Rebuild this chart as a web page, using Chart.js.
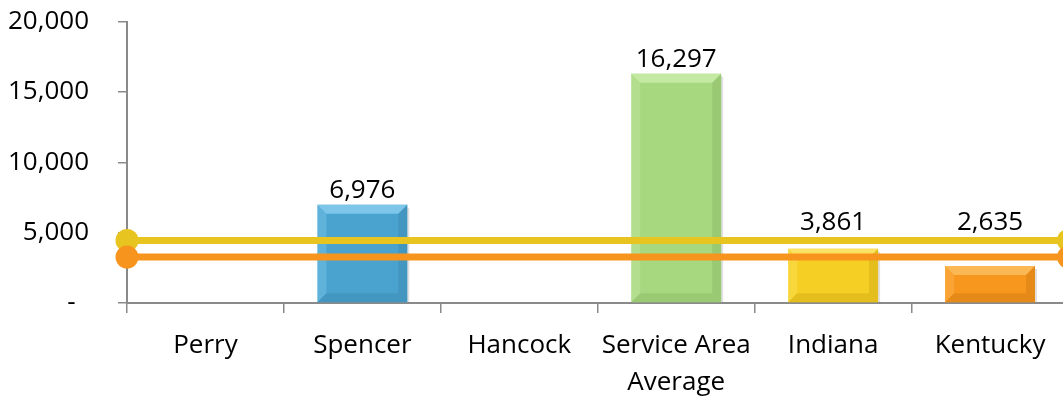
<!DOCTYPE html>
<html>
<head>
<meta charset="utf-8">
<script src="https://cdn.jsdelivr.net/npm/chart.js@4.4.1/dist/chart.umd.min.js"></script>
<style>
    html, body { margin: 0; padding: 0; background: #fff; overflow: hidden; }
    #wrap { width: 1063px; height: 402px; overflow: hidden; }
    canvas { display: block; margin-top: -23px; }
</style>
</head>
<body>
<div id="wrap"><canvas id="chart" width="1080" height="425"></canvas></div>
<script>
const categories = ['Perry', 'Spencer', 'Hancock', ['Service Area', 'Average'], 'Indiana', 'Kentucky'];
const barValues = [null, 6976, null, 16297, 3861, 2635];
const yellowLine = [4446, 4446];
const orangeLine = [3267, 3267];
const yTicks = [0, 5000, 10000, 15000, 20000];

// body, light edge, dark edge
const barColors = [
    ['#4aa3cf', '#86cdef', '#3a82a8'],
    ['#4aa3cf', '#86cdef', '#3a82a8'],
    ['#4aa3cf', '#86cdef', '#3a82a8'],
    ['#a7d880', '#c9eca8', '#86b562'],
    ['#f6cf24', '#fbe56e', '#c9a412'],
    ['#f8971e', '#fdbd5e', '#c9760f'],
];

const FONT = "'Open Sans', 'Noto Sans', sans-serif";

const bevelPlugin = {
    id: 'bevel',
    afterDatasetDraw(chart, args) {
        if (args.index !== 0) return;
        const ctx = chart.ctx;
        args.meta.data.forEach((bar, i) => {
            if (barValues[i] == null) return;
            const { x, y, width, base } = bar.getProps(['x', 'y', 'width', 'base'], true);
            const l = x - width / 2, r = x + width / 2;
            const b = Math.min(9, (base - y) / 3);
            const [, light, dark] = barColors[i];
            ctx.save();
            ctx.globalAlpha = 0.85;
            // top
            ctx.fillStyle = light;
            ctx.beginPath();
            ctx.moveTo(l, y); ctx.lineTo(r, y); ctx.lineTo(r - b, y + b); ctx.lineTo(l + b, y + b);
            ctx.fill();
            // left
            ctx.globalAlpha = 0.35;
            ctx.beginPath();
            ctx.moveTo(l, y); ctx.lineTo(l + b, y + b); ctx.lineTo(l + b, base - b); ctx.lineTo(l, base);
            ctx.fill();
            // right
            ctx.fillStyle = dark;
            ctx.globalAlpha = 0.4;
            ctx.beginPath();
            ctx.moveTo(r, y); ctx.lineTo(r - b, y + b); ctx.lineTo(r - b, base - b); ctx.lineTo(r, base);
            ctx.fill();
            // bottom
            ctx.globalAlpha = 0.4;
            ctx.beginPath();
            ctx.moveTo(l, base); ctx.lineTo(l + b, base - b); ctx.lineTo(r - b, base - b); ctx.lineTo(r, base);
            ctx.fill();
            // soft shadow on the right
            ctx.globalAlpha = 0.18;
            ctx.fillStyle = '#555';
            ctx.fillRect(r, y + 3, 2, base - y - 3);
            ctx.restore();
        });
    },
};

const valueLabels = {
    id: 'valueLabels',
    afterDraw(chart) {
        const ctx = chart.ctx;
        const yScale = chart.scales.y;
        const lineTop = yScale.getPixelForValue(Math.max(yellowLine[0], orangeLine[0])) - 3.5;
        const meta = chart.getDatasetMeta(0);
        ctx.save();
        ctx.font = `26px ${FONT}`;
        ctx.fillStyle = '#000';
        ctx.textAlign = 'center';
        ctx.textBaseline = 'alphabetic';
        meta.data.forEach((bar, i) => {
            const v = barValues[i];
            if (v == null) return;
            const top = Math.min(bar.y, lineTop);
            ctx.fillText(v.toLocaleString('en-US'), bar.x, top - 7);
        });
        ctx.restore();
    },
};

new Chart(document.getElementById('chart'), {
    type: 'bar',
    data: {
        labels: categories,
        datasets: [
            {
                type: 'bar',
                label: 'Value',
                data: barValues,
                backgroundColor: barColors.map((c) => c[0]),
                borderWidth: 0,
                grouped: false,
                barPercentage: 0.573,
                categoryPercentage: 1,
                order: 3,
            },
            {
                type: 'line',
                label: 'Indiana benchmark',
                data: yellowLine,
                xAxisID: 'x2',
                borderColor: '#e8c420',
                backgroundColor: '#e8c420',
                borderWidth: 7,
                pointRadius: 11.5,
                pointHoverRadius: 11.5,
                pointBorderWidth: 0,
                clip: false,
                order: 2,
            },
            {
                type: 'line',
                label: 'Kentucky benchmark',
                data: orangeLine,
                xAxisID: 'x2',
                borderColor: '#f7941e',
                backgroundColor: '#f7941e',
                borderWidth: 7,
                pointRadius: 11.5,
                pointHoverRadius: 11.5,
                pointBorderWidth: 0,
                clip: false,
                order: 1,
            },
        ],
    },
    options: {
        responsive: false,
        animation: false,
        events: [],
        layout: { padding: 0 },
        plugins: {
            legend: { display: false },
            tooltip: { enabled: false },
        },
        scales: {
            x: {
                type: 'category',
                offset: true,
                afterFit: (scale) => { scale.height = 99; },
                border: { color: '#8a8a8a', width: 2 },
                grid: {
                    offset: true,
                    drawOnChartArea: false,
                    tickLength: 10,
                    color: '#8a8a8a',
                    lineWidth: 1.5,
                },
                ticks: {
                    color: '#000',
                    padding: 14,
                    maxRotation: 0,
                    autoSkip: false,
                    font: { family: FONT, size: 26, lineHeight: 1.42 },
                },
            },
            x2: {
                type: 'category',
                labels: ['start', 'end'],
                offset: false,
                display: false,
            },
            y: {
                min: 0,
                max: 20000,
                afterFit: (scale) => { scale.width = 127; },
                afterBuildTicks: (scale) => { scale.ticks = yTicks.map((v) => ({ value: v })); },
                border: { color: '#8a8a8a', width: 2 },
                grid: {
                    drawOnChartArea: false,
                    tickLength: 9,
                    color: '#8a8a8a',
                    lineWidth: 1.5,
                },
                ticks: {
                    color: '#000',
                    padding: 29,
                    font: { family: FONT, size: 26 },
                    callback: (v) => (v === 0 ? '-  ' : v.toLocaleString('en-US')),
                },
            },
        },
    },
    plugins: [bevelPlugin, valueLabels],
});
</script>
</body>
</html>
